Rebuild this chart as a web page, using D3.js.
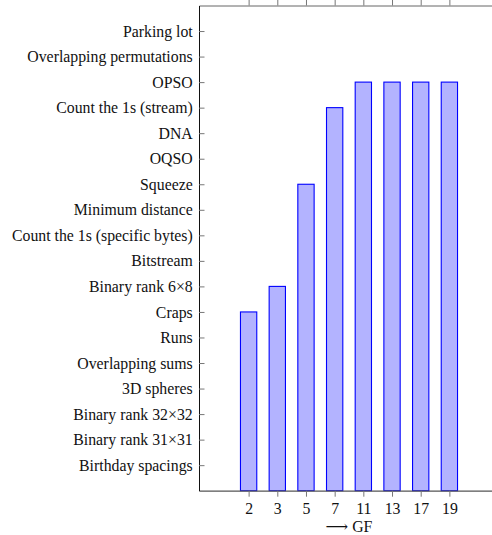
<!DOCTYPE html>
<html>
<head>
<meta charset="utf-8">
<script src="https://cdn.jsdelivr.net/npm/d3@7"></script>
<style>
  body { margin: 0; background: #fff; }
</style>
</head>
<body>
<div id="chart"></div>
<script>
// test names, bottom to top
const tests = [
  'Birthday spacings',
  'Binary rank 31×31',
  'Binary rank 32×32',
  '3D spheres',
  'Overlapping sums',
  'Runs',
  'Craps',
  'Binary rank 6×8',
  'Bitstream',
  'Count the 1s (specific bytes)',
  'Minimum distance',
  'Squeeze',
  'OQSO',
  'DNA',
  'Count the 1s (stream)',
  'OPSO',
  'Overlapping permutations',
  'Parking lot',
];
const fields = ['2', '3', '5', '7', '11', '13', '17', '19'];
// last test passed for each field
const reached = [
  'Craps',
  'Binary rank 6×8',
  'Squeeze',
  'Count the 1s (stream)',
  'OPSO',
  'OPSO',
  'OPSO',
  'OPSO',
];

const width = 492;
const height = 535;
const plotLeft = 199;
const plotRight = 499;
const plotTop = 5.5;
const plotBottom = 490.7;
const barWidth = 16.3;
const serif = '"Liberation Serif", "Times New Roman", "DejaVu Serif", serif';
const fontSize = 15.8;

const data = fields.map((f, i) => ({ field: f, test: reached[i] }));

const svg = d3.select('#chart').append('svg')
  .attr('width', width)
  .attr('height', height)
  .attr('viewBox', `0 0 ${width} ${height}`)
  .style('display', 'block');

const x = d3.scalePoint().domain(fields).range([plotLeft, plotRight]).padding(1.73);
const y = d3.scalePoint().domain(tests).range([plotBottom, plotTop]).padding(1);

// bars first so the axes sit on top
svg.append('g').selectAll('.bar').data(data)
  .enter().append('rect')
  .attr('class', 'bar')
  .attr('x', d => x(d.field) - barWidth / 2)
  .attr('width', barWidth)
  .attr('y', d => y(d.test))
  .attr('height', d => plotBottom - y(d.test))
  .attr('fill', '#b3b3ff')
  .attr('stroke', '#0000ff')
  .attr('stroke-width', 1.1);

// top frame with outward ticks, no labels
const topAxis = svg.append('g')
  .attr('transform', `translate(0,${plotTop})`)
  .call(d3.axisTop(x).tickSizeInner(5.5).tickSizeOuter(0).tickFormat(''));
topAxis.select('.domain').attr('stroke', '#666');
topAxis.selectAll('.tick line').attr('stroke', '#777');

// bottom axis
const bottomAxis = svg.append('g')
  .attr('transform', `translate(0,${plotBottom})`)
  .call(d3.axisBottom(x).tickSizeInner(6).tickSizeOuter(0).tickPadding(6))
  .attr('font-family', serif)
  .attr('font-size', fontSize);
bottomAxis.select('.domain').attr('stroke', '#555').attr('stroke-width', 1.3);
bottomAxis.selectAll('.tick line').attr('stroke', '#777');
bottomAxis.selectAll('.tick text').attr('fill', '#111');

// left axis, ticks pointing into the plot
const leftAxis = svg.append('g')
  .attr('transform', `translate(${plotLeft},0)`)
  .call(d3.axisLeft(y).tickSizeInner(-5.5).tickSizeOuter(0).tickPadding(6.3))
  .attr('font-family', serif)
  .attr('font-size', fontSize);
leftAxis.select('.domain').attr('stroke', '#111');
leftAxis.selectAll('.tick line').attr('stroke', '#777');
leftAxis.selectAll('.tick text').attr('fill', '#111');

// x label
svg.append('text')
  .attr('x', (plotLeft + plotRight) / 2)
  .attr('y', 531.5)
  .attr('text-anchor', 'middle')
  .attr('font-family', serif)
  .attr('font-size', fontSize)
  .attr('fill', '#111')
  .text('⟶ GF');
</script>
</body>
</html>
